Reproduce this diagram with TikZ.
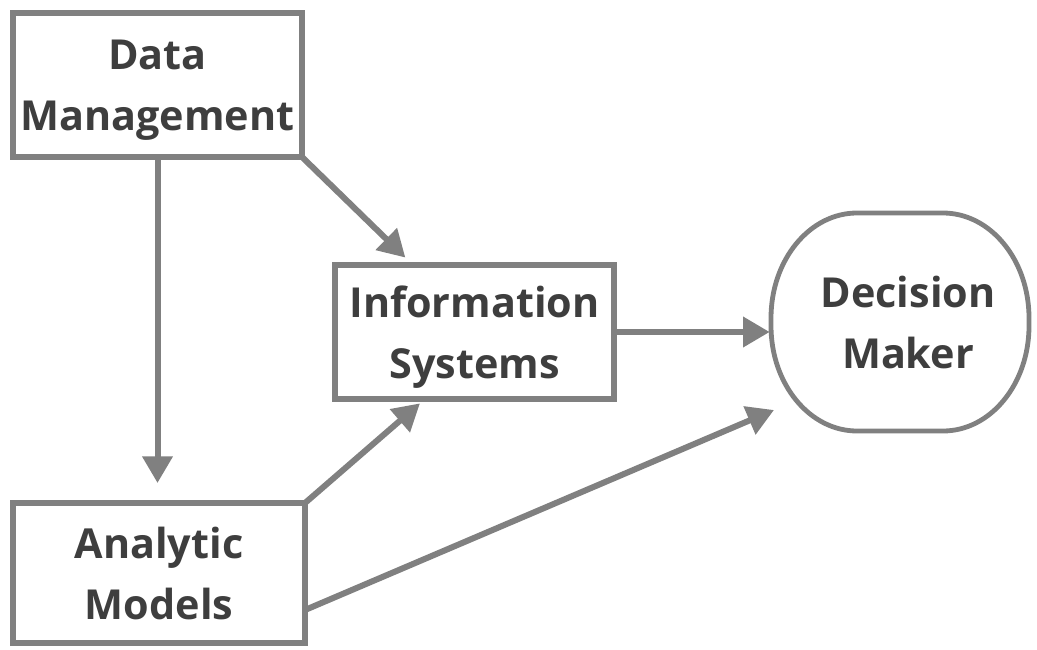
\documentclass[tikz,border=0pt]{standalone}
\usepackage{fontspec}
\setmainfont{Open Sans}
\usetikzlibrary{arrows.meta,calc}
\definecolor{linegray}{RGB}{128,128,128}
\definecolor{textgray}{RGB}{62,62,62}
\begin{document}
\begin{tikzpicture}[x=0.75pt,y=-0.75pt,
  box/.style={draw=linegray, line width=4.5pt, inner sep=0pt, outer sep=0pt,
    align=center, text=textgray, text depth=0pt,
    font=\fontsize{31}{46}\selectfont\bfseries},
  oval/.style={inner sep=0pt, outer sep=0pt, align=center, text=textgray, text depth=0pt,
    font=\fontsize{31}{46}\selectfont\bfseries},
  arr/.style={draw=linegray, line width=4.5pt, -{Triangle[length=20pt,width=22pt]}}]
\useasboundingbox[fill=white] (0,0) rectangle (1037,649);

\node[box, minimum width=216.75pt, minimum height=108pt] (dm) at (157.5,85) {Data\\Management};
\node[box, minimum width=209.25pt, minimum height=100.5pt] (is) at (474.5,332) {Information\\Systems};
\node[box, minimum width=219pt, minimum height=105pt] (am) at (159,573) {Analytic\\Models};
\node[oval, minimum width=193.5pt, minimum height=163.5pt] (dmk) at (900,322) {\hspace*{12pt}Decision\\\hspace*{12pt}Maker};

% Decision Maker outline with elliptical corners
\draw[draw=linegray, line width=3.6pt]
  ($(dmk.north west)+(86,0)$) -- ($(dmk.north east)+(-86,0)$)
  arc[start angle=90, end angle=0, x radius=86, y radius=-105]
  -- ($(dmk.south east)+(0,-105)$)
  arc[start angle=0, end angle=-90, x radius=86, y radius=-105]
  -- ($(dmk.south west)+(86,0)$)
  arc[start angle=-90, end angle=-180, x radius=86, y radius=-105]
  -- ($(dmk.north west)+(0,105)$)
  arc[start angle=180, end angle=90, x radius=86, y radius=-105]
  -- cycle;

\draw[arr, shorten >=15pt] (dm.south) -- (dm.south |- am.north);
\draw[arr, shorten >=8pt] (dm.south east) -- ($(is.north west)+(78,0)$);
\draw[arr, shorten >=1pt] (is.east) -- (is.east -| dmk.west);
\draw[arr, shorten >=5pt] (am.north east) -- ($(is.south west)+(90,0)$);
\draw[arr] ($(am.east)+(0,37)$) -- ($(dmk.west)+(3,88)$);
\end{tikzpicture}
\end{document}
